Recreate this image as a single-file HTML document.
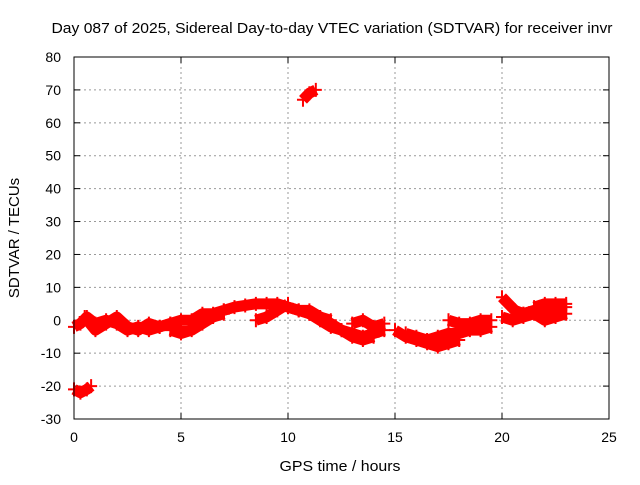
<!DOCTYPE html>
<html><head><meta charset="utf-8"><style>
body{margin:0;background:#fff}
svg text{font-family:"Liberation Sans",sans-serif;font-size:14px;fill:#000}
</style></head><body>
<svg id="chart" width="640" height="480">
<text x="332" y="33" text-anchor="middle" style="font-size:15px" textLength="561" lengthAdjust="spacingAndGlyphs">Day 087 of 2025, Sidereal Day-to-day VTEC variation (SDTVAR) for receiver invr</text>
<text x="340" y="471" text-anchor="middle" style="font-size:15px" textLength="121" lengthAdjust="spacingAndGlyphs">GPS time / hours</text>
<text transform="translate(19,238) rotate(-90)" text-anchor="middle" style="font-size:15px">SDTVAR / TECUs</text>
<g id="grid"></g><g id="ticks"></g><g id="marks"></g>
<rect x="74" y="57" width="535" height="362" fill="none" stroke="#000" stroke-width="1"/>
</svg>
<script>
const xTicks=[0,5,10,15,20,25];
const yTicks=[-30,-20,-10,0,10,20,30,40,50,60,70,80];
const trackHours=[
[0,0.3,0.6,1.0,1.5,2.0,2.5,3.0,3.5,4.0,4.5,5.0],
[0.5,1,1.5,2,2.5,3,3.5,4,4.5,5,5.5,6,6.5,7],
[4.5,5,5.5,6,6.5,7],
[7,7.5,8,8.5,9,9.5,10,10.5,11,11.5,12],
[8.5,9,9.5,10],
[10,10.5,11,11.5,12,12.5,13,13.5,14,14.5],
[11,11.5,12,12.5,13,13.5,14],
[13,13.5,14,14.5],
[15,15.5,16,16.5,17,17.5,18],
[15.5,16,16.5,17,17.5,18,18.5,19,19.5],
[17.5,18,18.5,19,19.5],
[20,20.3,20.6,21],
[20,20.5,21,21.5,22,22.5,23],
[21.5,22,22.5,23],
[20.5,21,21.5,22,22.5,23],
[0,0.3,0.6,0.8],
[10.7,11,11.3]];
const trackValues=[
[-2,-1,1,-1,0,-1,-3,-2,-3,-2,-1,-2],
[1,-3,-1,1,-2,-3,-1,-2,-1,0,0,2,2,3],
[-3,-4,-3,-1,1,2],
[3,4,4.5,5,5,5,4,3,2,1,0],
[0,1,3,5],
[4,3,3,1,-1,-3,-4,-5,-4,-3],
[2,0,-2,-3,-5,-6,-5],
[-1,0,-2,-1],
[-3,-5,-6,-7,-8,-7,-6],
[-4,-5,-6,-5,-4,-4,-3,-3,-2],
[0,-1,-1,0,0],
[7,5,3,2],
[1,0,1,2,0,1,2],
[4,5,5,5],
[1,2,3,3,4,4],
[-21,-22,-21,-20],
[67,69,70]];
const X0=74,X1=609,Y0=419,Y1=57;
const sx=v=>X0+(v-0)/(25-0)*(X1-X0);
const sy=v=>Y0-(v+30)/(110)*(Y0-Y1);
const NS="http://www.w3.org/2000/svg";
const grid=document.getElementById('grid'),ticks=document.getElementById('ticks'),marks=document.getElementById('marks');
function mk(tag,attrs,parent){const e=document.createElementNS(NS,tag);for(const k in attrs)e.setAttribute(k,attrs[k]);parent.appendChild(e);return e;}
xTicks.forEach(t=>{
 const x=sx(t);
 if(t>0&&t<25){const g=mk('line',{x1:x,x2:x,y1:Y1,y2:Y0,stroke:'#999','stroke-dasharray':'2,3'},grid);
 
 }
 mk('line',{x1:x,x2:x,y1:Y0,y2:Y0-6,stroke:'#000'},ticks);
 mk('line',{x1:x,x2:x,y1:Y1,y2:Y1+6,stroke:'#000'},ticks);
 const l=mk('text',{x:x,y:Y0+23,'text-anchor':'middle'},ticks);l.textContent=t;
 
 
});
yTicks.forEach(t=>{
 const y=sy(t);
 if(t>-30&&t<80){const g=mk('line',{x1:X0,x2:X1,y1:y,y2:y,stroke:'#999','stroke-dasharray':'2,3'},grid);
 
 }
 mk('line',{x1:X0,x2:X0+6,y1:y,y2:y,stroke:'#000'},ticks);
 mk('line',{x1:X1,x2:X1-6,y1:y,y2:y,stroke:'#000'},ticks);
 const l=mk('text',{x:X0-13,y:y+5,'text-anchor':'end'},ticks);l.textContent=t;
 
 
});
trackHours.forEach((hs,i)=>{
 const pts=hs.map((h,j)=>sx(h)+','+sy(trackValues[i][j])).join(' ');
 const p=mk('polyline',{points:pts,fill:'none',stroke:'#f00','stroke-width':11,'stroke-linejoin':'round','stroke-linecap':'butt'},marks);
 
 
 hs.forEach((h,j)=>{
  const x=sx(h),y=sy(trackValues[i][j]);
  const m=mk('path',{d:`M${x-6},${y}H${x+6}M${x},${y-7}V${y+7}`,stroke:'#f00','stroke-width':2},marks);
  
  
 });
});
</script>
</body></html>
